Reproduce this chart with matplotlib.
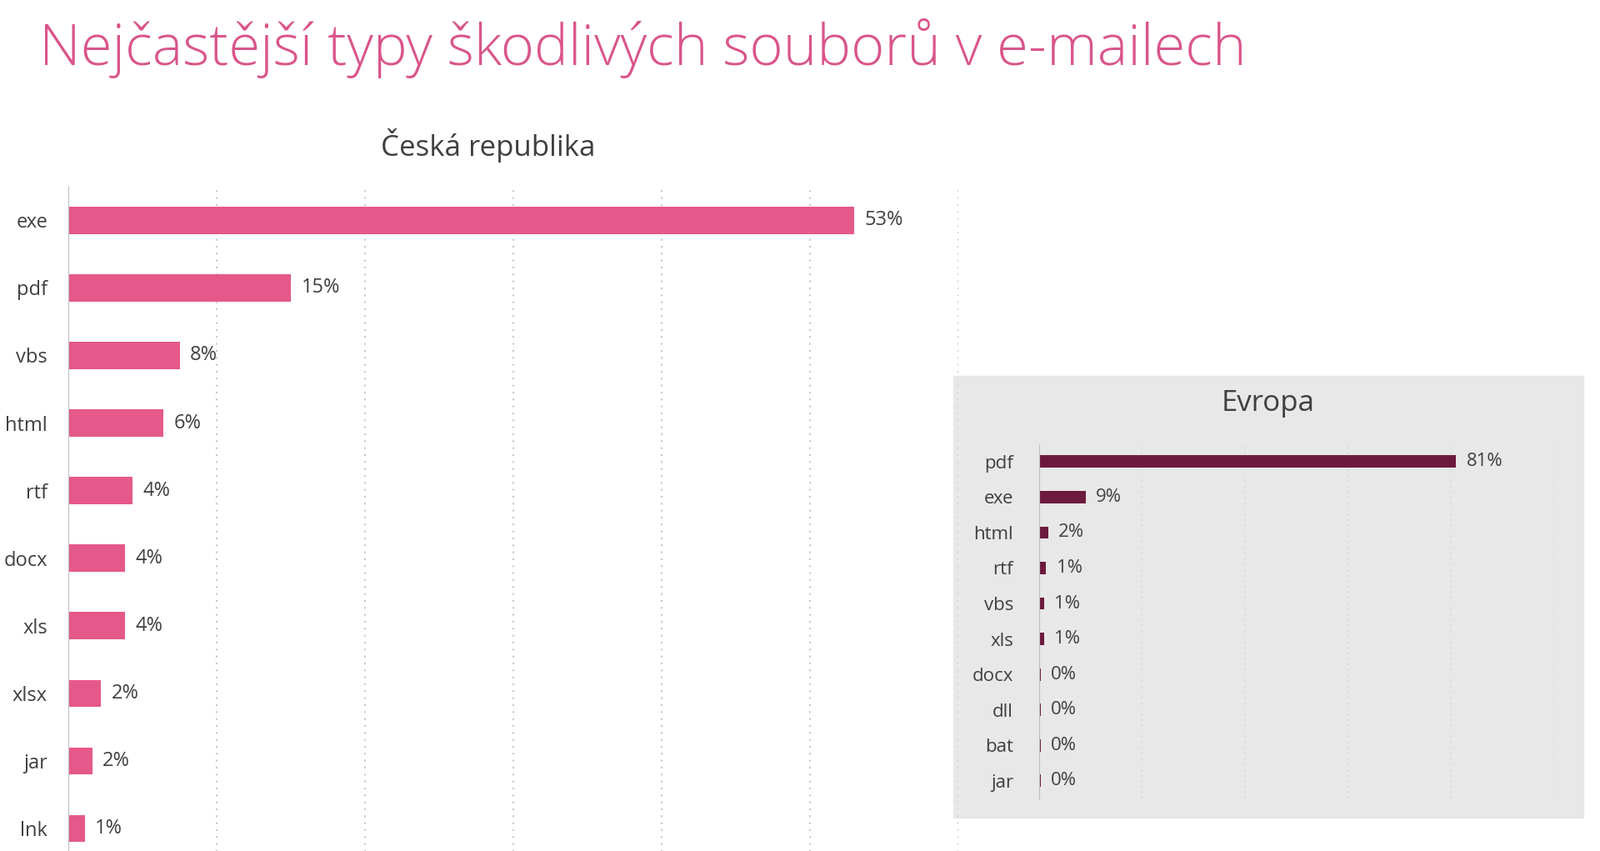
import matplotlib
matplotlib.use("Agg")
import matplotlib.pyplot as plt
from matplotlib.patches import Rectangle

cz_types = ["exe","pdf","vbs","html","rtf","docx","xls","xlsx","jar","lnk"]
cz_vals = [53.0,15.0,7.5,6.4,4.3,3.8,3.8,2.2,1.6,1.1]
eu_types = ["pdf","exe","html","rtf","vbs","xls","docx","dll","bat","jar"]
eu_vals = [81.0,9.1,1.8,1.4,1.0,1.0,0.4,0.4,0.4,0.4]

W,H = 1568,835
fig = plt.figure(figsize=(19.2,10.21),dpi=100)
plt.rcParams["font.family"]="Open Sans"
txt="#404040"
fig.text(38/W,1-64/H,"Nejčastější typy škodlivých souborů v e-mailech",fontsize=49.5,color="#d9558a",fontweight="light",va="baseline")
fig.text(478/W,1-143/H,"Česká republika",fontsize=25,color=txt,ha="center",va="center")

ax=fig.add_axes([67/W,1-846/H,(939-67)/W,(846-183)/H])
ax.set_axisbelow(True)
y=range(len(cz_types))
ax.barh(y,cz_vals,height=0.4,color="#e5588a")
ax.set_xlim(0,60); ax.set_ylim(9.5,-0.5)
ax.set_yticks(list(y)); ax.set_yticklabels(cz_types,fontsize=17,color=txt)
ax.set_xticks([10,20,30,40,50,60]); ax.tick_params(axis="x",length=0,labelbottom=False)
ax.tick_params(axis="y",length=0,pad=18)
ax.grid(axis="x",linestyle=(0,(1,3)),color="#c8c8c8",linewidth=1.5)
for s in ["top","right","bottom"]: ax.spines[s].set_visible(False)
ax.spines["left"].set_color("#bfbfbf")
for i,v in enumerate(cz_vals):
    ax.text(v+0.7,i,f"{round(v)}%",va="center",fontsize=17,color=txt)
ax.set_facecolor("none")

fig.add_artist(Rectangle((934/W,1-802/H),(1552-934)/W,(802-369)/H,transform=fig.transFigure,color="#e7e8e7",zorder=0))
fig.text(1243/W,1-396/H,"Evropa",fontsize=25,color=txt,ha="center",va="center")
ax2=fig.add_axes([1018/W,1-783.4/H,(1523-1018)/W,(783.4-435.6)/H])
ax2.set_facecolor("none")
ax2.set_axisbelow(True)
y2=range(len(eu_types))
ax2.barh(y2,eu_vals,height=0.35,color="#6d1a3f")
ax2.set_xlim(0,100); ax2.set_ylim(9.5,-0.5)
ax2.set_yticks(list(y2)); ax2.set_yticklabels(eu_types,fontsize=16,color=txt)
ax2.set_xticks([20,40,60,80,100]); ax2.tick_params(axis="x",length=0,labelbottom=False)
ax2.tick_params(axis="y",length=0,pad=22)
ax2.grid(axis="x",linestyle=(0,(1,3)),color="#d4d4d4",linewidth=1.2)
for s in ["top","right","bottom"]: ax2.spines[s].set_visible(False)
ax2.spines["left"].set_color("#bfbfbf")
for i,v in enumerate(eu_vals):
    ax2.text(v+2.0,i,f"{round(v)}%",va="center",fontsize=16,color=txt)
fig.savefig("out.png",dpi=100)
